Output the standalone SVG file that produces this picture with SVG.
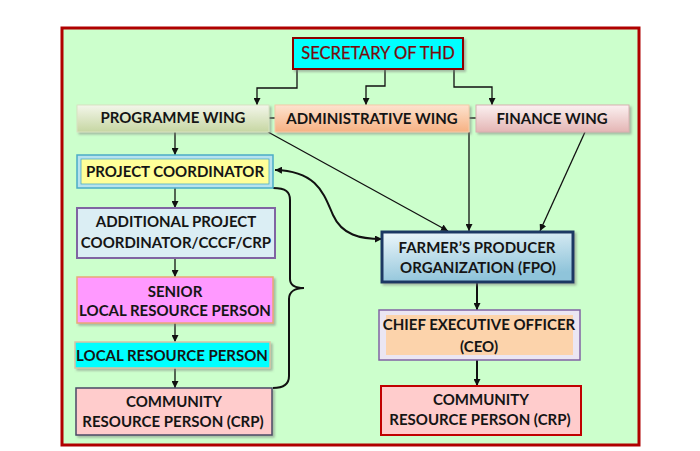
<svg xmlns="http://www.w3.org/2000/svg" width="700" height="451" viewBox="0 0 700 451">
<defs>
<style>
.t{font-family:Lato,"Liberation Sans",Arial,sans-serif;font-weight:bold;font-size:15px;fill:#151515;text-anchor:middle}
.sec{font-family:Lato,"Liberation Sans",Arial,sans-serif;font-size:16.5px;fill:#7a0a0a;text-anchor:middle;stroke:#7a0a0a;stroke-width:0.25}
.c{fill:none;stroke:#111;stroke-width:1.3}
.c2{fill:none;stroke:#111;stroke-width:2}
</style>
<marker id="ah" viewBox="0 0 8 8" refX="8" refY="4" markerWidth="7" markerHeight="7" markerUnits="userSpaceOnUse" orient="auto-start-reverse">
<path d="M0,0 L8,4 L0,8 z" fill="#111"/>
</marker>
<filter id="sh" x="-10%" y="-20%" width="130%" height="160%">
<feDropShadow dx="2" dy="2" stdDeviation="1" flood-color="#777" flood-opacity="0.5"/>
</filter>
<linearGradient id="gProg" x1="0" y1="0" x2="0" y2="1">
<stop offset="0" stop-color="#f3f6ea"/><stop offset="1" stop-color="#c6d6a2"/>
</linearGradient>
<linearGradient id="gAdm" x1="0" y1="0" x2="0" y2="1">
<stop offset="0" stop-color="#fde3cf"/><stop offset="1" stop-color="#f6b183"/>
</linearGradient>
<linearGradient id="gFin" x1="0" y1="0" x2="0" y2="1">
<stop offset="0" stop-color="#fbf1f1"/><stop offset="1" stop-color="#e4b5b4"/>
</linearGradient>
<linearGradient id="gFpo" x1="0" y1="0" x2="0.3" y2="1">
<stop offset="0" stop-color="#eef7fb"/><stop offset="1" stop-color="#8fc4da"/>
</linearGradient>
</defs>

<rect x="62" y="28" width="577" height="417" fill="#ccffcc" stroke="#b00000" stroke-width="3"/>

<g id="connectors">
<path class="c" d="M297,69 V88 H257 V105" marker-end="url(#ah)"/>
<path class="c" d="M385,69 V86 H366 V105" marker-end="url(#ah)"/>
<path class="c" d="M454,69 V87 H492 V105" marker-end="url(#ah)"/>
<path class="c" d="M269,118 H275"/>
<path class="c" d="M469,118 H476"/>
<path class="c" d="M268,132 L448,231" marker-end="url(#ah)"/>
<path class="c" d="M469,132 V231" marker-end="url(#ah)"/>
<path class="c" d="M585,132 L540,231" marker-end="url(#ah)"/>
<path class="c" d="M175,132 V155" marker-end="url(#ah)"/>
<path class="c" d="M175,188 V208" marker-end="url(#ah)"/>
<path class="c" d="M175,258 V277" marker-end="url(#ah)"/>
<path class="c" d="M175,323 V342" marker-end="url(#ah)"/>
<path class="c" d="M175,368 V388" marker-end="url(#ah)"/>
<path class="c2" d="M275,170 C318,171 324,195 333,215 C342,235 360,239 382,239" marker-start="url(#ah)" marker-end="url(#ah)"/>
<path class="c2" d="M273,188 C286,188 290,192 290,200 L290,279 C290,286 296,288 304,288 C296,288 289,291 289,299 L289,376 C289,384 284,388 273,388"/>
<path class="c2" d="M477,282 V310" marker-end="url(#ah)"/>
<path class="c2" d="M477,360 V386" marker-end="url(#ah)"/>
</g>

<g id="secretary">
<rect x="293" y="38" width="170" height="31" fill="#00ffff" stroke="#8b0000" stroke-width="2" filter="url(#sh)"/>
<text class="sec" x="378" y="59">SECRETARY OF THD</text>
</g>

<g id="programme-wing">
<rect x="77" y="105" width="192" height="27" fill="url(#gProg)" stroke="#d8e2c2" stroke-width="1" filter="url(#sh)"/>
<text class="t" x="173" y="123">PROGRAMME WING</text>
</g>
<g id="administrative-wing">
<rect x="275" y="105" width="194" height="27" fill="url(#gAdm)" stroke="#f6caa8" stroke-width="1" filter="url(#sh)"/>
<text class="t" x="372" y="124">ADMINISTRATIVE WING</text>
</g>
<g id="finance-wing">
<rect x="476" y="105" width="153" height="27" fill="url(#gFin)" stroke="#d8b0b0" stroke-width="1" filter="url(#sh)"/>
<text class="t" x="552" y="124">FINANCE WING</text>
</g>

<g id="project-coordinator">
<rect x="77" y="155" width="196" height="33" fill="#b7e3ee" stroke="#4bacc6" stroke-width="1.5"/>
<rect x="81" y="159" width="188" height="25" fill="#ffff99" stroke="#4bacc6" stroke-width="0.8"/>
<text class="t" x="175" y="177">PROJECT COORDINATOR</text>
</g>

<g id="additional-project-coordinator">
<rect x="77" y="208" width="198" height="50" fill="#dbeef4" stroke="#8064a2" stroke-width="2"/>
<text class="t" x="176" y="227">ADDITIONAL PROJECT</text>
<text class="t" x="176" y="248">COORDINATOR/CCCF/CRP</text>
</g>

<g id="senior-lrp">
<rect x="77" y="277" width="196" height="46" fill="#ff99ff" stroke="#e9a877" stroke-width="1.5" filter="url(#sh)"/>
<text class="t" x="175" y="297">SENIOR</text>
<text class="t" x="175" y="316">LOCAL RESOURCE PERSON</text>
</g>

<g id="local-resource-person">
<rect x="75" y="342" width="195" height="26" fill="#00ffff" stroke="#d9c3a5" stroke-width="1.5" filter="url(#sh)"/>
<text class="t" x="172" y="361">LOCAL RESOURCE PERSON</text>
</g>

<g id="crp-left">
<rect x="76" y="388" width="196" height="47" fill="#ffcccc" stroke="#4a4a66" stroke-width="1.5" filter="url(#sh)"/>
<text class="t" x="174" y="407">COMMUNITY</text>
<text class="t" x="173" y="427">RESOURCE PERSON (CRP)</text>
</g>

<g id="fpo">
<rect x="382" y="232" width="191" height="50" fill="url(#gFpo)" stroke="#1f3864" stroke-width="3" filter="url(#sh)"/>
<text class="t" x="477" y="253">FARMER’S PRODUCER</text>
<text class="t" x="478" y="273">ORGANIZATION (FPO)</text>
</g>

<g id="ceo">
<rect x="379" y="310" width="201" height="50" fill="#ebe6f2" stroke="#8064a2" stroke-width="1.5"/>
<rect x="386" y="315" width="187" height="40" fill="#fcd3ab"/>
<text class="t" x="479" y="330">CHIEF EXECUTIVE OFFICER</text>
<text class="t" x="479" y="352">(CEO)</text>
</g>

<g id="crp-right">
<rect x="381" y="386" width="200" height="49" fill="#ffcccc" stroke="#c00000" stroke-width="2"/>
<text class="t" x="481" y="405">COMMUNITY</text>
<text class="t" x="480" y="425">RESOURCE PERSON (CRP)</text>
</g>
</svg>
